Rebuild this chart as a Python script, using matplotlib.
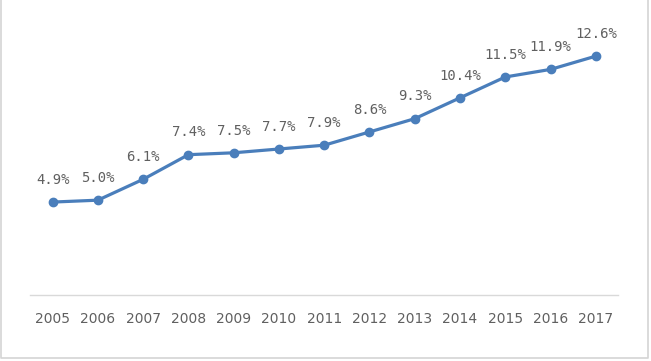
import matplotlib
matplotlib.use('Agg')
import matplotlib.pyplot as plt
from matplotlib.lines import Line2D

years = [2005, 2006, 2007, 2008, 2009, 2010, 2011, 2012, 2013, 2014, 2015, 2016, 2017]
share = [4.9, 5.0, 6.1, 7.4, 7.5, 7.7, 7.9, 8.6, 9.3, 10.4, 11.5, 11.9, 12.6]
labels = ['4.9%', '5.0%', '6.1%', '7.4%', '7.5%', '7.7%', '7.9%',
          '8.6%', '9.3%', '10.4%', '11.5%', '11.9%', '12.6%']

line_color = '#4a7ebb'
text_color = '#606060'

fig = plt.figure(figsize=(6.51, 3.61), dpi=100)
ax = fig.add_axes([0.046, 0.183, 0.904, 0.735])

ax.plot(years, share, color=line_color, linewidth=2.3, marker='o', markersize=6,
        solid_capstyle='round')

for x, y, lab in zip(years, share, labels):
    ax.annotate(lab, (x, y), xytext=(0, 16), textcoords='offset points',
                ha='center', va='center', fontsize=10, color=text_color,
                family='DejaVu Sans Mono')

ax.set_xlim(2004.5, 2017.5)
ax.set_ylim(0, 14)
ax.set_xticks(years)
ax.set_xticklabels([str(y) for y in years], fontsize=10, color=text_color)
ax.set_yticks([])
ax.tick_params(axis='x', length=0, pad=12)

for s in ['top', 'right', 'left']:
    ax.spines[s].set_visible(False)
ax.spines['bottom'].set_color('#d9d9d9')
ax.spines['bottom'].set_linewidth(1)

# light frame on left, right and bottom like the screenshot
frame_x = [0.002, 0.002, 0.996, 0.996]
frame_y = [1.0, 0.009, 0.009, 1.0]
fig.lines.append(Line2D(frame_x, frame_y, transform=fig.transFigure,
                        color='#d4d4d4', linewidth=1.2))

fig.savefig('out.png', dpi=100)
